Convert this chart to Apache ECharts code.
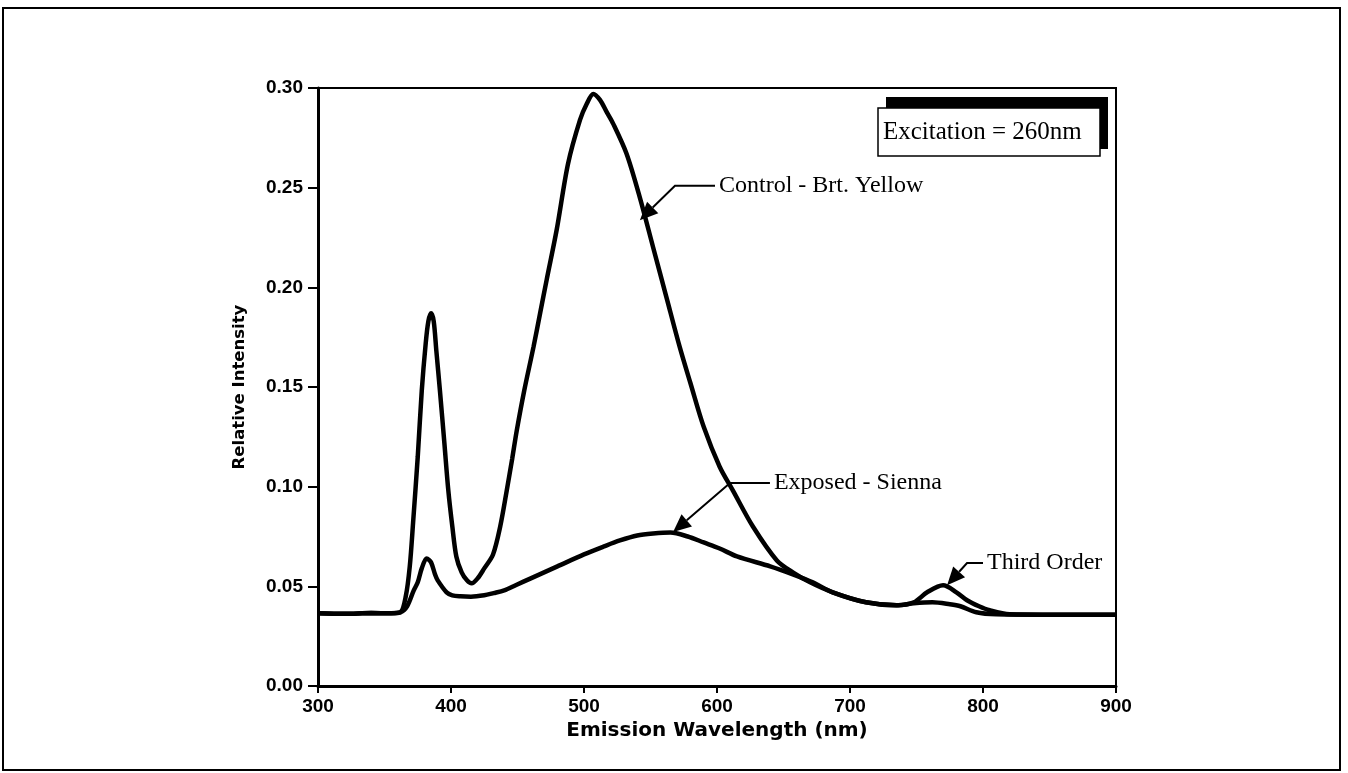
<!DOCTYPE html>
<html><head><meta charset="utf-8">
<script src="https://cdn.jsdelivr.net/npm/echarts@6/dist/echarts.min.js"></script>
<style>html,body{margin:0;padding:0;background:#fff}#c{width:1348px;height:773px}</style>
</head><body><div id="c"></div>
<script>
// Control - Brt. Yellow
const controlWl  = [300,320,340,355,362,366,369,371.5,375,378,381,383,385,387,389,391.7,395,398,401,404,408,412,415.5,420,425,431.6,437,441.9,446,449.4,455,462,467,472,479.5,488,497,502,507,512,517,522,532,542,552,562,572,580,590,602,612,627,645,657,670,687,712,735,748,758,770,780,788,797,805,820,850,900];
const controlVal = [0.0365,0.0362,0.0366,0.0365,0.037,0.045,0.06,0.082,0.115,0.148,0.172,0.183,0.187,0.183,0.168,0.148,0.122,0.098,0.08,0.065,0.057,0.053,0.0515,0.054,0.059,0.066,0.08,0.098,0.114,0.128,0.148,0.17,0.187,0.204,0.229,0.262,0.284,0.292,0.297,0.294,0.288,0.282,0.267,0.245,0.22,0.195,0.17,0.152,0.13,0.11,0.098,0.08,0.063,0.057,0.052,0.047,0.042,0.0405,0.042,0.047,0.0505,0.047,0.043,0.04,0.038,0.036,0.0358,0.0358];
// Exposed - Sienna
const exposedWl  = [300,320,340,355,362,367,372,375,378,381.7,385,388,390,396.7,401,407,415,425,432,440,449,460,480,500,515,527,540,552,565,578,590,602,615,640,657,672,687,712,735,748,762,775,783,795,810,850,900];
const exposedVal = [0.0365,0.0362,0.0366,0.0365,0.037,0.04,0.048,0.052,0.059,0.064,0.062,0.056,0.053,0.047,0.0455,0.045,0.0448,0.0455,0.0466,0.048,0.0507,0.054,0.06,0.066,0.07,0.073,0.0755,0.0765,0.077,0.075,0.072,0.069,0.065,0.06,0.056,0.052,0.047,0.042,0.0405,0.0415,0.042,0.041,0.04,0.037,0.036,0.0358,0.0358];
const yTicks = [0, 0.05, 0.10, 0.15, 0.20, 0.25, 0.30];
const xTicks = [300, 400, 500, 600, 700, 800, 900];
// annotation anchors in data units: [tipX, tipY, elbowX, elbowY, endX, label]
const annotations = [
  [542, 0.2337, 568.4, 0.251, 598.5, 'Control - Brt. Yellow'],
  [567, 0.0772, 609.8, 0.1018, 639.8, 'Exposed - Sienna'],
  [773, 0.0506, 788, 0.0617, 800, 'Third Order']
];
const boxText = 'Excitation = 260nm';

const zip = (a, b) => a.map((v, i) => [v, b[i]]);
const chart = echarts.init(document.getElementById('c'), null, {renderer: 'canvas'});
const tickFont = {fontFamily: 'Liberation Sans', fontWeight: 'bold', fontSize: 19, color: '#000'};
const option = {
  animation: false,
  backgroundColor: '#fff',
  grid: {left: 318, top: 88, right: 232, bottom: 87, show: true, borderColor: '#000', borderWidth: 2, backgroundColor: 'transparent'},
  xAxis: {
    type: 'value', min: xTicks[0], max: xTicks[xTicks.length - 1], interval: 100,
    name: 'Emission Wavelength (nm)', nameLocation: 'middle', nameGap: 33,
    nameTextStyle: {fontFamily: 'DejaVu Sans', fontWeight: 'bold', fontSize: 20, color: '#000'},
    axisLine: {lineStyle: {color: '#000', width: 3}},
    axisTick: {length: 7, lineStyle: {color: '#000', width: 2}},
    axisLabel: Object.assign({margin: 11}, tickFont),
    splitLine: {show: false}
  },
  yAxis: {
    type: 'value', min: yTicks[0], max: yTicks[yTicks.length - 1], interval: 0.05,
    name: 'Relative Intensity', nameLocation: 'middle', nameGap: 70, nameRotate: 90,
    nameTextStyle: {fontFamily: 'DejaVu Sans', fontWeight: 'bold', fontSize: 16.5, color: '#000'},
    axisLine: {lineStyle: {color: '#000', width: 3}},
    axisTick: {length: 10, lineStyle: {color: '#000', width: 2}},
    axisLabel: Object.assign({margin: 15, formatter: v => v.toFixed(2)}, tickFont),
    splitLine: {show: false}
  },
  series: [
    {name: 'Control - Brt. Yellow', type: 'line', data: zip(controlWl, controlVal), showSymbol: false, smooth: 0.3,
     lineStyle: {color: '#000', width: 4.5}, z: 3},
    {name: 'Exposed - Sienna', type: 'line', data: zip(exposedWl, exposedVal), showSymbol: false, smooth: 0.3,
     lineStyle: {color: '#000', width: 4.5}, z: 3}
  ]
};
chart.setOption(option);

const graphics = [];
graphics.push({type: 'rect', shape: {x: 3, y: 8, width: 1337, height: 762}, style: {fill: 'none', stroke: '#000', lineWidth: 2}, silent: true});
annotations.forEach(a => {
  const tip = chart.convertToPixel({gridIndex: 0}, [a[0], a[1]]);
  const elb = chart.convertToPixel({gridIndex: 0}, [a[2], a[3]]);
  const end = chart.convertToPixel({gridIndex: 0}, [a[4], a[3]]);
  const ang = Math.atan2(tip[1] - elb[1], tip[0] - elb[0]);
  const L = 18, W = 8;
  const bx = tip[0] - L * Math.cos(ang), by = tip[1] - L * Math.sin(ang);
  const px = -Math.sin(ang) * W, py = Math.cos(ang) * W;
  graphics.push({type: 'polyline', shape: {points: [end, elb, [bx, by]]}, style: {stroke: '#000', lineWidth: 2, fill: 'none'}, z: 10});
  graphics.push({type: 'polygon', shape: {points: [tip, [bx + px, by + py], [bx - px, by - py]]}, style: {fill: '#000'}, z: 10});
  graphics.push({type: 'text', x: end[0] + 4, y: end[1], style: {text: a[5], font: '24px "Liberation Serif"', fill: '#000', textVerticalAlign: 'middle', verticalAlign: 'middle'}, z: 10});
});
// excitation box with shadow
graphics.push({type: 'rect', shape: {x: 886, y: 97, width: 222, height: 52}, style: {fill: '#000'}, z: 10});
graphics.push({type: 'rect', shape: {x: 878, y: 108, width: 222, height: 48}, style: {fill: '#fff', stroke: '#000', lineWidth: 1.5}, z: 11});
graphics.push({type: 'text', x: 883, y: 132, style: {text: boxText, font: '25px "Liberation Serif"', fill: '#000', textVerticalAlign: 'middle', verticalAlign: 'middle'}, z: 12});
chart.setOption({graphic: graphics});
</script>
</body></html>
